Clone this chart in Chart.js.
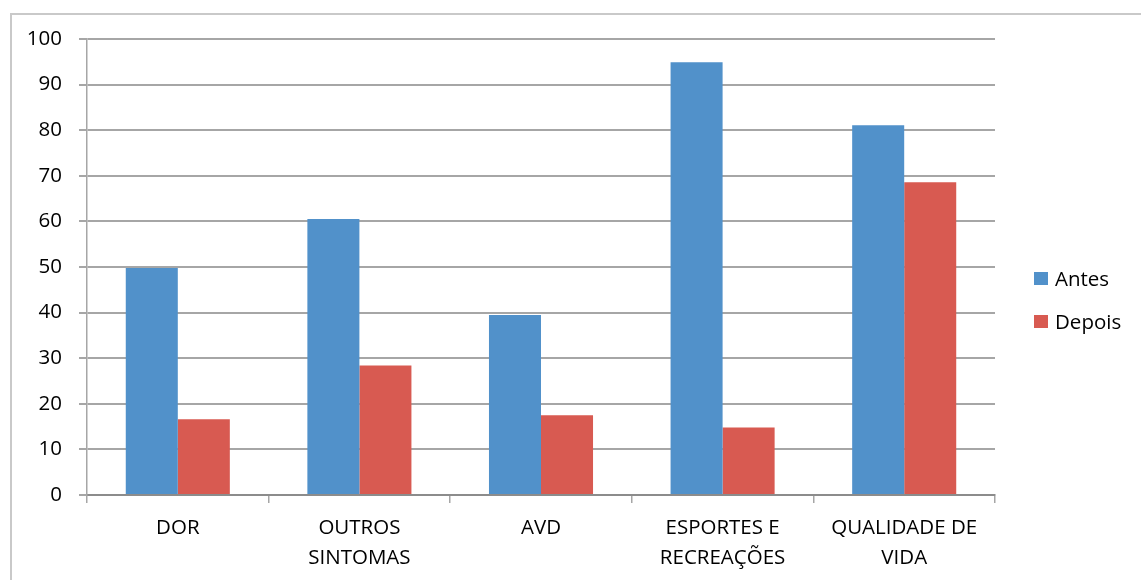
<!DOCTYPE html>
<html>
<head>
<meta charset="utf-8">
<script src="https://cdn.jsdelivr.net/npm/chart.js@4/dist/chart.umd.min.js"></script>
<style>
  html, body { margin: 0; padding: 0; background: #fff; overflow: hidden; }
  #wrap { position: relative; width: 1141px; height: 580px; }
  #frame { position: absolute; left: 10px; top: 13px; width: 1200px; height: 700px; border: 2px solid #c9c9c9; box-sizing: border-box; }
  #chart { position: absolute; left: 0; top: 0; }
  .legend { position: absolute; left: 1034px; font-family: "Open Sans", sans-serif; font-size: 20.5px; color: #000; }
  .legend-item { position: absolute; left: 0; white-space: nowrap; display: flex; align-items: center; height: 30px; }
  .swatch { width: 14px; height: 13px; margin-right: 7px; }
</style>
</head>
<body>
<div id="wrap">
  <div id="frame"></div>
  <canvas id="chart" width="1141" height="580"></canvas>
  <div class="legend" id="legend"></div>
</div>
<script>
// chart values
const categories = [['DOR'], ['OUTROS', 'SINTOMAS'], ['AVD'], ['ESPORTES E', 'RECREAÇÕES'], ['QUALIDADE DE', 'VIDA']];
const antes = [49.8, 60.5, 39.5, 94.9, 81.1];
const depois = [16.6, 28.4, 17.5, 14.8, 68.6];
const yTicks = [0, 10, 20, 30, 40, 50, 60, 70, 80, 90, 100];

const seriesNames = ['Antes', 'Depois'];
const seriesColors = ['#5191ca', '#d85a51'];

document.addEventListener('DOMContentLoaded', function() {
  const ctx = document.getElementById('chart').getContext('2d');
  const tickFont = { family: '"Open Sans", sans-serif', size: 20.5 };

  new Chart(ctx, {
    type: 'bar',
    data: {
      labels: categories,
      datasets: [
        { label: seriesNames[0], data: antes, backgroundColor: seriesColors[0] },
        { label: seriesNames[1], data: depois, backgroundColor: seriesColors[1] }
      ]
    },
    options: {
      responsive: false,
      animation: false,
      devicePixelRatio: 1,
      categoryPercentage: 0.573,
      barPercentage: 1.0,
      layout: { padding: { left: 0, top: 39, right: 146, bottom: 0 } },
      plugins: {
        legend: { display: false },
        tooltip: { enabled: false }
      },
      scales: {
        x: {
          grid: { offset: true, drawOnChartArea: false, drawTicks: true, tickLength: 8, color: '#a6a6a6', lineWidth: 1.5 },
          border: { color: '#8c8c8c', width: 2 },
          ticks: { color: '#000', font: Object.assign({ lineHeight: 1.46 }, tickFont), padding: 10, maxRotation: 0, autoSkip: false },
          afterFit: function(scale) { scale.height = 85; }
        },
        y: {
          min: 0,
          max: 100,
          afterBuildTicks: function(scale) { scale.ticks = yTicks.map(v => ({ value: v })); },
          grid: { color: '#a6a6a6', lineWidth: 2, tickLength: 8 },
          border: { color: '#a6a6a6', width: 1.5 },
          ticks: { color: '#000', font: tickFont, padding: 17 },
          afterFit: function(scale) { scale.width = 87; }
        }
      }
    }
  });

  // legend on the right, as html text
  const legend = document.getElementById('legend');
  const centers = [278, 321];
  seriesNames.forEach(function(name, i) {
    const item = document.createElement('div');
    item.className = 'legend-item';
    item.style.top = (centers[i] - 15) + 'px';
    item.innerHTML = '<span class="swatch" style="background:' + seriesColors[i] + '"></span><span>' + name + '</span>';
    legend.appendChild(item);
  });
});
</script>
</body>
</html>
